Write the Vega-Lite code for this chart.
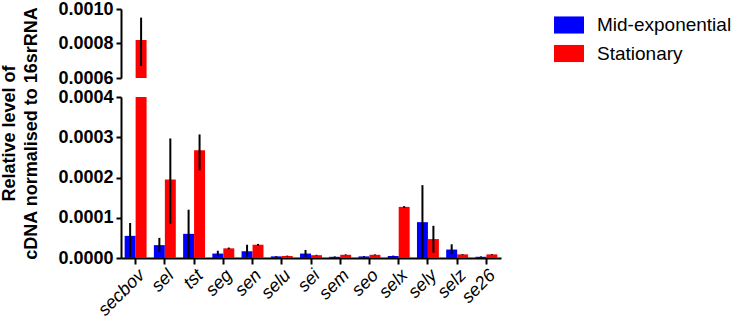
{
 "$schema": "https://vega.github.io/schema/vega-lite/v6.json",
 "padding": {"left": 0, "top": 0, "right": 0, "bottom": 0},
 "bounds": "flush",
 "spacing": 19,
 "config": {
  "view": {"stroke": null},
  "font": "Liberation Sans",
  "axis": {"grid": false, "domainColor": "black", "domainWidth": 2, "tickColor": "black", "tickWidth": 2, "tickSize": 5, "labelColor": "black", "labelFont": "Liberation Sans", "labelFontSize": 18, "labelFontWeight": "bold", "labelPadding": 3, "labelOverlap": false, "titleColor": "black", "titleFont": "Liberation Sans", "titleFontSize": 18, "titleFontWeight": "bold"}
 },
 "datasets": {
  "d": [
   {"gene": "secbov", "phase": "Mid-exponential", "value": 0.000055, "lo": 0.000003, "hi": 0.000087},
   {"gene": "secbov", "phase": "Stationary", "value": 0.00082, "lo": 0.00067, "hi": 0.00095},
   {"gene": "sel", "phase": "Mid-exponential", "value": 0.000032, "lo": 0.000015, "hi": 0.00005},
   {"gene": "sel", "phase": "Stationary", "value": 0.000195, "lo": 0.000085, "hi": 0.000297},
   {"gene": "tst", "phase": "Mid-exponential", "value": 0.00006, "lo": 0.0, "hi": 0.00012},
   {"gene": "tst", "phase": "Stationary", "value": 0.000268, "lo": 0.000218, "hi": 0.000307},
   {"gene": "seg", "phase": "Mid-exponential", "value": 0.000011, "lo": 0.000005, "hi": 0.000018},
   {"gene": "seg", "phase": "Stationary", "value": 0.000024, "lo": 0.000022, "hi": 0.000026},
   {"gene": "sen", "phase": "Mid-exponential", "value": 0.000017, "lo": 0.000003, "hi": 0.000033},
   {"gene": "sen", "phase": "Stationary", "value": 0.000033, "lo": 0.000031, "hi": 0.000035},
   {"gene": "selu", "phase": "Mid-exponential", "value": 0.000004, "lo": 0.000003, "hi": 0.000005},
   {"gene": "selu", "phase": "Stationary", "value": 0.000005, "lo": 0.000004, "hi": 0.000006},
   {"gene": "sei", "phase": "Mid-exponential", "value": 0.000011, "lo": 0.000003, "hi": 0.00002},
   {"gene": "sei", "phase": "Stationary", "value": 0.000007, "lo": 0.000006, "hi": 0.000008},
   {"gene": "sem", "phase": "Mid-exponential", "value": 0.000003, "lo": 0.000002, "hi": 0.000004},
   {"gene": "sem", "phase": "Stationary", "value": 0.000008, "lo": 0.000007, "hi": 0.000009},
   {"gene": "seo", "phase": "Mid-exponential", "value": 0.000004, "lo": 0.000003, "hi": 0.000005},
   {"gene": "seo", "phase": "Stationary", "value": 0.000008, "lo": 0.000007, "hi": 0.000009},
   {"gene": "selx", "phase": "Mid-exponential", "value": 0.000005, "lo": 0.000004, "hi": 0.000006},
   {"gene": "selx", "phase": "Stationary", "value": 0.000127, "lo": 0.000125, "hi": 0.000129},
   {"gene": "sely", "phase": "Mid-exponential", "value": 0.000089, "lo": 0.0, "hi": 0.000181},
   {"gene": "sely", "phase": "Stationary", "value": 0.000047, "lo": 0.000013, "hi": 0.00008},
   {"gene": "selz", "phase": "Mid-exponential", "value": 0.000021, "lo": 0.000009, "hi": 0.000034},
   {"gene": "selz", "phase": "Stationary", "value": 0.000009, "lo": 0.000008, "hi": 0.00001},
   {"gene": "se26", "phase": "Mid-exponential", "value": 0.000003, "lo": 0.000002, "hi": 0.000004},
   {"gene": "se26", "phase": "Stationary", "value": 0.000009, "lo": 0.000008, "hi": 0.00001}
  ]
 },
 "vconcat": [
  {
   "width": 380,
   "height": 69,
   "data": {"name": "d"},
   "layer": [
    {
     "mark": {"type": "bar", "clip": true},
     "encoding": {
      "x": {"field": "gene", "type": "nominal", "sort": null, "scale": {"paddingInner": 0.25, "paddingOuter": 0.125}, "axis": null},
      "xOffset": {"field": "phase", "type": "nominal", "sort": ["Mid-exponential", "Stationary"], "scale": {"paddingInner": 0, "paddingOuter": 0}},
      "y": {"field": "value", "type": "quantitative", "scale": {"domain": [0.0006, 0.001], "nice": false, "zero": false}, "axis": {"values": [0.0006, 0.0008, 0.001], "tickCount": 3, "format": ".4f", "title": null}},
      "color": {"field": "phase", "type": "nominal", "scale": {"domain": ["Mid-exponential", "Stationary"], "range": ["#0000FF", "#FF0000"]}, "legend": {"orient": "none", "legendX": 433, "legendY": 1, "title": null, "labelFontSize": 19, "labelFont": "Liberation Sans", "labelColor": "black", "symbolType": "M-1,-0.57L1,-0.57L1,0.57L-1,0.57Z", "symbolSize": 900, "symbolStrokeWidth": 0, "symbolOpacity": 1, "rowPadding": 3.5, "labelOffset": 13}}
     }
    },
    {
     "mark": {"type": "rule", "clip": true, "strokeWidth": 2, "color": "black"},
     "encoding": {
      "x": {"field": "gene", "type": "nominal", "sort": null},
      "xOffset": {"field": "phase", "type": "nominal", "sort": ["Mid-exponential", "Stationary"]},
      "y": {"field": "lo", "type": "quantitative"},
      "y2": {"field": "hi"}
     }
    }
   ]
  },
  {
   "width": 380,
   "height": 161,
   "data": {"name": "d"},
   "layer": [
    {
     "mark": {"type": "bar", "clip": true},
     "encoding": {
      "x": {"field": "gene", "type": "nominal", "sort": null, "scale": {"paddingInner": 0.25, "paddingOuter": 0.125}, "axis": {"title": null, "labelAngle": -45, "labelFontStyle": "italic", "labelFontWeight": "normal", "labelFontSize": 18, "labelPadding": 2, "tickSize": 6}},
      "xOffset": {"field": "phase", "type": "nominal", "sort": ["Mid-exponential", "Stationary"], "scale": {"paddingInner": 0, "paddingOuter": 0}},
      "y": {"field": "value", "type": "quantitative", "scale": {"domain": [0, 0.0004], "nice": false}, "axis": {"values": [0, 0.0001, 0.0002, 0.0003, 0.0004], "tickCount": 5, "format": ".4f", "title": ["Relative level of", "cDNA normalised to 16srRNA"], "titleY": 36, "titlePadding": 17, "titleLineHeight": 22}},
      "color": {"field": "phase", "type": "nominal"}
     }
    },
    {
     "mark": {"type": "rule", "clip": true, "strokeWidth": 2, "color": "black"},
     "encoding": {
      "x": {"field": "gene", "type": "nominal", "sort": null},
      "xOffset": {"field": "phase", "type": "nominal", "sort": ["Mid-exponential", "Stationary"]},
      "y": {"field": "lo", "type": "quantitative"},
      "y2": {"field": "hi"}
     }
    }
   ]
  }
 ]
}
